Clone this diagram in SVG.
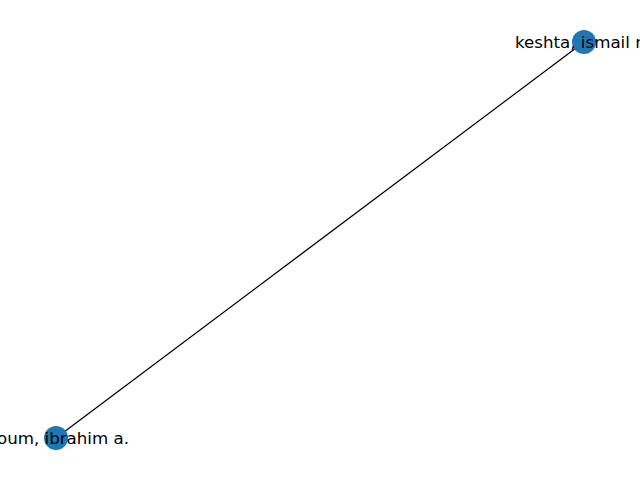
<svg xmlns="http://www.w3.org/2000/svg" width="640" height="480" viewBox="0 0 640 480">
<style>
.node{fill:#1f77b4}
.lbl{font-family:"DejaVu Sans",sans-serif;font-size:16.67px;fill:#000}
.edge{stroke:#000;stroke-width:1.3;fill:none}
</style>
<rect width="640" height="480" fill="#fff"/>
<g id="edges">
<line class="edge" x1="584" y1="42" x2="56" y2="438"/>
</g>
<g id="node-keshta">
<circle class="node" cx="584" cy="42" r="12"/>
<text class="lbl" x="515" y="48">keshta, ismail m</text>
</g>
<g id="node-ibrahim">
<circle class="node" cx="56" cy="438" r="12"/>
<text class="lbl" x="129" y="444" text-anchor="end">oum, ibrahim a.</text>
</g>
</svg>
